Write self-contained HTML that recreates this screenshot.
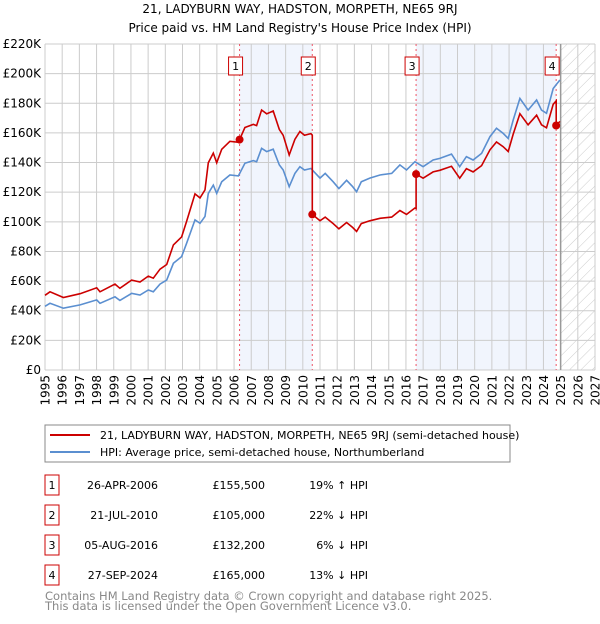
<!DOCTYPE html>
<html><head><meta charset="utf-8"><style>
body{margin:0;background:#fff;font-family:"DejaVu Sans","Liberation Sans",sans-serif;}
svg text{font-family:"DejaVu Sans","Liberation Sans",sans-serif;}
</style></head><body>
<svg id="chart" width="600" height="620" xmlns="http://www.w3.org/2000/svg">
<defs><pattern id="hatch" width="8" height="8" patternUnits="userSpaceOnUse" patternTransform="rotate(45)"><rect width="8" height="8" fill="#fff"/><line x1="0" y1="0" x2="0" y2="8" stroke="#ccc" stroke-width="1"/></pattern></defs>
<text x="300" y="13" text-anchor="middle" font-size="12">21, LADYBURN WAY, HADSTON, MORPETH, NE65 9RJ</text>
<text x="300" y="32" text-anchor="middle" font-size="12">Price paid vs. HM Land Registry's House Price Index (HPI)</text>
<g id="plot"></g>
<g>
<rect x="45" y="425" width="465" height="37" fill="#fff" stroke="#888"/>
<line x1="50" y1="435" x2="90" y2="435" stroke="#cc0000" stroke-width="2"/>
<text x="100" y="439" font-size="11">21, LADYBURN WAY, HADSTON, MORPETH, NE65 9RJ (semi-detached house)</text>
<line x1="50" y1="452" x2="90" y2="452" stroke="#5b8fd0" stroke-width="2"/>
<text x="100" y="456" font-size="11">HPI: Average price, semi-detached house, Northumberland</text>
</g>
<g id="table"></g>
<text x="45" y="600" font-size="11.5" fill="#888">Contains HM Land Registry data © Crown copyright and database right 2025.</text>
<text x="45" y="610" font-size="11.5" fill="#888">This data is licensed under the Open Government Licence v3.0.</text>
</svg>
<script>
const hpiYears=[1995.0,1995.29,1996.07,1997.04,1998.01,1998.2,1999.07,1999.36,2000.04,2000.53,2001.01,2001.3,2001.69,2002.08,2002.47,2002.95,2003.24,2003.73,2004.02,2004.31,2004.5,2004.79,2004.99,2005.28,2005.76,2006.25,2006.63,2007.12,2007.31,2007.6,2007.9,2008.28,2008.63,2008.86,2009.21,2009.54,2009.83,2010.1,2010.47,2011.0,2011.3,2011.77,2012.1,2012.55,2012.9,2013.13,2013.4,2013.9,2014.49,2015.17,2015.65,2016.03,2016.52,2017.0,2017.58,2017.97,2018.65,2019.13,2019.52,2019.91,2020.4,2020.89,2021.27,2021.66,2021.95,2022.24,2022.63,2023.11,2023.6,2023.89,2024.18,2024.57,2024.96];
const hpiValues=[43,45,41.7,43.9,47.3,45,49.4,47,51.7,50.6,54,52.8,58,60.7,72,76.5,85.5,101.3,99,103.6,119.2,124.8,119.2,127,131.6,131,139.5,141.3,140.6,149.6,147.4,149,138.4,135,123.7,132.7,137.2,135,136,129.5,132.7,127,122.5,128,123.7,120.3,127,129.5,131.6,132.7,138.4,135,140.6,137.2,141.7,142.8,145.7,137.2,144,141.7,146.2,157.5,163.1,159.7,156.3,168.7,183.3,175.4,182.2,175.4,173.2,190,195.7];
const saleYears=[2006.32,2010.55,2016.59,2024.74];
const salePrices=[155.5,105,132.2,165];
const saleDates=["26-APR-2006","21-JUL-2010","05-AUG-2016","27-SEP-2024"];
const salePriceLabels=["£155,500","£105,000","£132,200","£165,000"];
const saleHpiLabels=["19% ↑ HPI","22% ↓ HPI","6% ↓ HPI","13% ↓ HPI"];
const yTicks=[0,20,40,60,80,100,120,140,160,180,200,220];
const yTickLabels=["£0","£20K","£40K","£60K","£80K","£100K","£120K","£140K","£160K","£180K","£200K","£220K"];
const xTicks=[1995,1996,1997,1998,1999,2000,2001,2002,2003,2004,2005,2006,2007,2008,2009,2010,2011,2012,2013,2014,2015,2016,2017,2018,2019,2020,2021,2022,2023,2024,2025,2026,2027];
const dataEnd=2025.0;

const NS="http://www.w3.org/2000/svg";
const X0=45,X1=595,Y0=370,Y1=44,xMin=1995,xMax=2027,yMax=220;
const xs=y=>X0+(y-xMin)/(xMax-xMin)*(X1-X0);
const ys=v=>Y0-v/yMax*(Y0-Y1);
function mk(tag,attrs,parent){const e=document.createElementNS(NS,tag);for(const k in attrs)e.setAttribute(k,attrs[k]);parent.appendChild(e);return e;}
const plot=document.getElementById('plot');
function hpiAt(t){for(let i=1;i<hpiYears.length;i++){if(t<=hpiYears[i]){const f=(t-hpiYears[i-1])/(hpiYears[i]-hpiYears[i-1]);return hpiValues[i-1]+f*(hpiValues[i]-hpiValues[i-1]);}}return hpiValues[hpiValues.length-1];}
for(let i=0;i<saleYears.length;i+=2){const a=saleYears[i],b=i+1<saleYears.length?saleYears[i+1]:dataEnd;
const r=mk('rect',{x:xs(a),y:Y1,width:xs(b)-xs(a),height:Y0-Y1,fill:'#f1f5fd'},plot);

}
const h=mk('rect',{x:xs(dataEnd),y:Y1,width:X1-xs(dataEnd),height:Y0-Y1,fill:'url(#hatch)'},plot);


xTicks.forEach(t=>{const l=mk('line',{x1:xs(t),x2:xs(t),y1:Y1,y2:Y0,stroke:'#ccc','stroke-width':1},plot);


const tx=mk('text',{x:0,y:0,'text-anchor':'end','font-size':12,transform:'translate('+(xs(t)+4.5)+','+(Y0+5)+') rotate(-90)'},plot);tx.textContent=t;

});
yTicks.forEach((v,i)=>{const l=mk('line',{x1:X0,x2:X1,y1:ys(v),y2:ys(v),stroke:'#ccc','stroke-width':1},plot);


const tx=mk('text',{x:X0-4,y:ys(v)+4,'text-anchor':'end','font-size':12},plot);tx.textContent=yTickLabels[i];

});
const ed=mk('line',{x1:xs(dataEnd),x2:xs(dataEnd),y1:Y1,y2:Y0,stroke:'#999','stroke-width':1.5},plot);


saleYears.forEach((t,i)=>{const l=mk('line',{x1:xs(t),x2:xs(t),y1:Y1,y2:Y0,stroke:'#ee5566','stroke-width':1,'stroke-dasharray':'2,3'},plot);


const g=mk('g',{},plot);


mk('rect',{x:xs(t)-11,y:57,width:14,height:18,fill:'#fff',stroke:'#cc0000'},g);
const tx=mk('text',{x:xs(t)-4,y:70,'text-anchor':'middle','font-size':11},g);tx.textContent=i+1;});
const hpiPts=hpiYears.map((t,i)=>xs(t).toFixed(1)+','+ys(hpiValues[i]).toFixed(1)).join(' ');
const hl=mk('polyline',{points:hpiPts,fill:'none',stroke:'#5b8fd0','stroke-width':1.6},plot);


const ratios=saleYears.map((t,i)=>salePrices[i]/hpiAt(t));
function seg(t){let s=0;for(let i=0;i<saleYears.length;i++)if(t>=saleYears[i])s=i;return s;}
const pts=[];let last=-1;
hpiYears.forEach((t,k)=>{
  saleYears.forEach((s,i)=>{if(last<s&&t>=s){const hv=hpiAt(s);pts.push([s,hv*ratios[i>0?i-1:0]]);pts.push([s,salePrices[i]]);}});
  pts.push([t,hpiValues[k]*ratios[seg(t)]]);last=t;});
const pl=mk('polyline',{points:pts.map(p=>xs(p[0]).toFixed(1)+','+ys(p[1]).toFixed(1)).join(' '),fill:'none',stroke:'#cc0000','stroke-width':1.6},plot);


saleYears.forEach((t,i)=>{const c=mk('circle',{cx:xs(t),cy:ys(salePrices[i]),r:4,fill:'#cc0000'},plot);

});
const tb=document.getElementById('table');
saleYears.forEach((t,i)=>{const y=485+i*30;const g=mk('g',{},tb);


mk('rect',{x:45,y:y-10,width:14,height:20,fill:'#fff',stroke:'#cc0000'},g);
let tx=mk('text',{x:52,y:y+4,'text-anchor':'middle','font-size':11},g);tx.textContent=i+1;
tx=mk('text',{x:158,y:y+4,'text-anchor':'end','font-size':11},g);tx.textContent=saleDates[i];
tx=mk('text',{x:265,y:y+4,'text-anchor':'end','font-size':11},g);tx.textContent=salePriceLabels[i];
tx=mk('text',{x:368,y:y+4,'text-anchor':'end','font-size':11},g);tx.textContent=saleHpiLabels[i];});
</script>
</body></html>
